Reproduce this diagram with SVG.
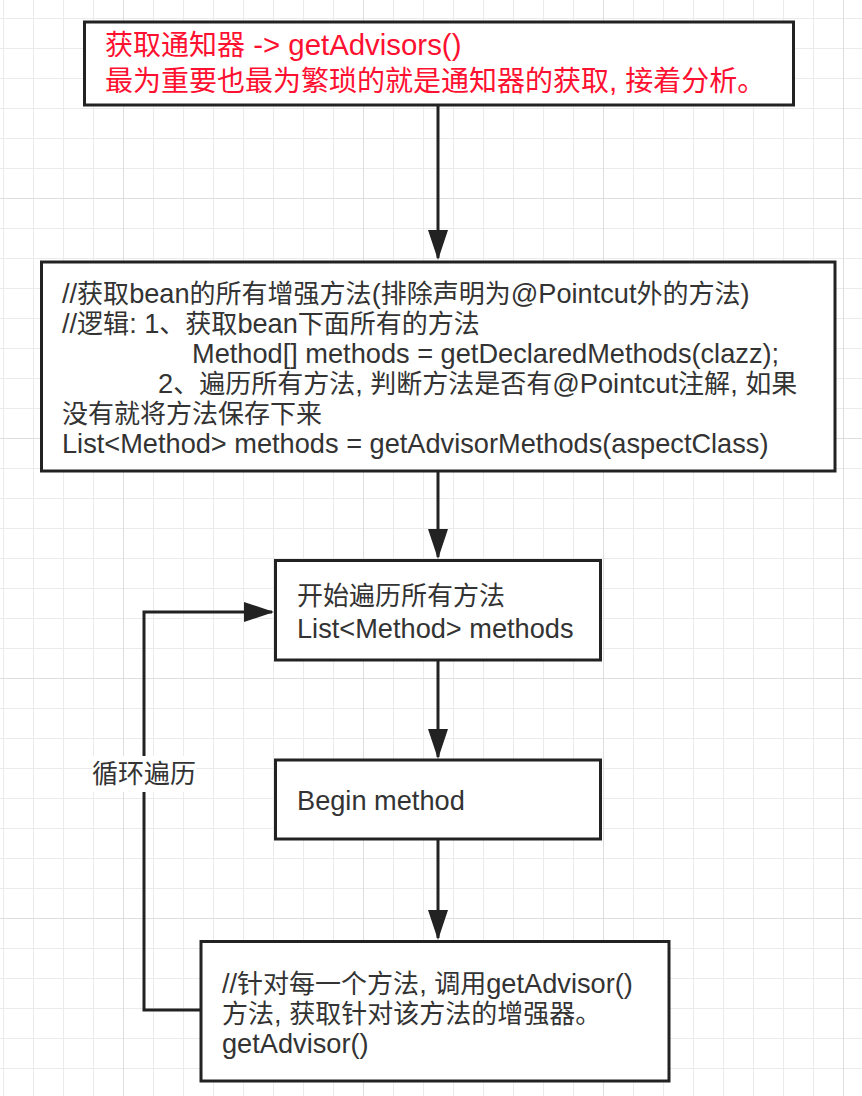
<svg xmlns="http://www.w3.org/2000/svg" width="862" height="1096" viewBox="0 0 862 1096">
  <defs>
    <pattern id="gridMinor" x="3" y="18" width="30" height="30" patternUnits="userSpaceOnUse">
      <path d="M0,0.5 H30 M0.5,0 V30" fill="none" stroke="#ebebeb" stroke-width="1"/>
    </pattern>
    <pattern id="gridMajor" x="123" y="198" width="240" height="240" patternUnits="userSpaceOnUse">
      <path d="M0,0.5 H240 M0.5,0 V240" fill="none" stroke="#dedede" stroke-width="1"/>
    </pattern>
    <marker id="arrow" viewBox="0 0 30 20" refX="28" refY="10" markerWidth="30" markerHeight="20" markerUnits="userSpaceOnUse" orient="auto">
      <path d="M0,0 L30,10 L0,20 Z" fill="#222"/>
    </marker>
    <style>
      .box { fill: #ffffff; stroke: #222222; stroke-width: 3; }
      .edge { fill: none; stroke: #222222; stroke-width: 3; marker-end: url(#arrow); }
      .t { font-family: "Liberation Sans", "Noto Sans CJK SC", sans-serif; font-size: 26px; fill: #333333; }
      .l { font-size: 27.2px; }
      .red { font-family: "Liberation Sans", "Noto Sans CJK SC", sans-serif; font-size: 28px; fill: #fe1030; }
      .rl { font-size: 29.4px; }
    </style>
  </defs>

  <rect x="0" y="0" width="862" height="1096" fill="#ffffff"/>
  <rect x="0" y="0" width="862" height="1096" fill="url(#gridMinor)"/>
  <rect x="0" y="0" width="862" height="1096" fill="url(#gridMajor)"/>

  <g id="connectors">
    <path class="edge" d="M438,105 L438,258"/>
    <path class="edge" d="M438,472 L438,557"/>
    <path class="edge" d="M438,660 L438,757"/>
    <path class="edge" d="M438,839 L438,938"/>
    <path class="edge" d="M201,1010 L144,1010 L144,612 L272,612"/>
    <g id="loop-label">
      <rect x="92" y="756" width="104" height="36" fill="#ffffff"/>
      <text class="t" x="144" y="783" text-anchor="middle">循环遍历</text>
    </g>
  </g>

  <g id="node-getAdvisors">
    <rect class="box" x="84.5" y="22" width="709" height="83"/>
    <text class="red" x="105" y="55">获取通知器<tspan class="rl"> -&gt; getAdvisors()</tspan></text>
    <text class="red" x="105" y="91">最为重要也最为繁琐的就是通知器的获取<tspan class="rl">, </tspan>接着分析。</text>
  </g>

  <g id="node-advisorMethods">
    <rect class="box" x="41.5" y="262" width="793.5" height="209"/>
    <text class="t" x="62" y="303"><tspan class="l">//</tspan>获取<tspan class="l">bean</tspan>的所有增强方法<tspan class="l">(</tspan>排除声明为<tspan class="l">@Pointcut</tspan>外的方法<tspan class="l">)</tspan></text>
    <text class="t" x="62" y="333"><tspan class="l">//</tspan>逻辑<tspan class="l">: 1</tspan>、获取<tspan class="l">bean</tspan>下面所有的方法</text>
    <text class="t l" x="192" y="363">Method[] methods = getDeclaredMethods(clazz);</text>
    <text class="t" x="158" y="393"><tspan class="l">2</tspan>、遍历所有方法<tspan class="l">, </tspan>判断方法是否有<tspan class="l">@Pointcut</tspan>注解<tspan class="l">, </tspan>如果</text>
    <text class="t" x="62" y="423">没有就将方法保存下来</text>
    <text class="t l" x="62" y="453">List&lt;Method&gt; methods = getAdvisorMethods(aspectClass)</text>
  </g>

  <g id="node-loopStart">
    <rect class="box" x="275.5" y="560.5" width="325" height="99.5"/>
    <text class="t" x="297" y="605">开始遍历所有方法</text>
    <text class="t l" x="297" y="638">List&lt;Method&gt; methods</text>
  </g>

  <g id="node-beginMethod">
    <rect class="box" x="275.5" y="760" width="325" height="79"/>
    <text class="t l" x="297" y="810">Begin method</text>
  </g>

  <g id="node-getAdvisor">
    <rect class="box" x="201" y="941.5" width="468" height="139.5"/>
    <text class="t" x="222" y="993"><tspan class="l">//</tspan>针对每一个方法<tspan class="l">, </tspan>调用<tspan class="l">getAdvisor()</tspan></text>
    <text class="t" x="222" y="1023">方法<tspan class="l">, </tspan>获取针对该方法的增强器。</text>
    <text class="t l" x="222" y="1053">getAdvisor()</text>
  </g>
</svg>
